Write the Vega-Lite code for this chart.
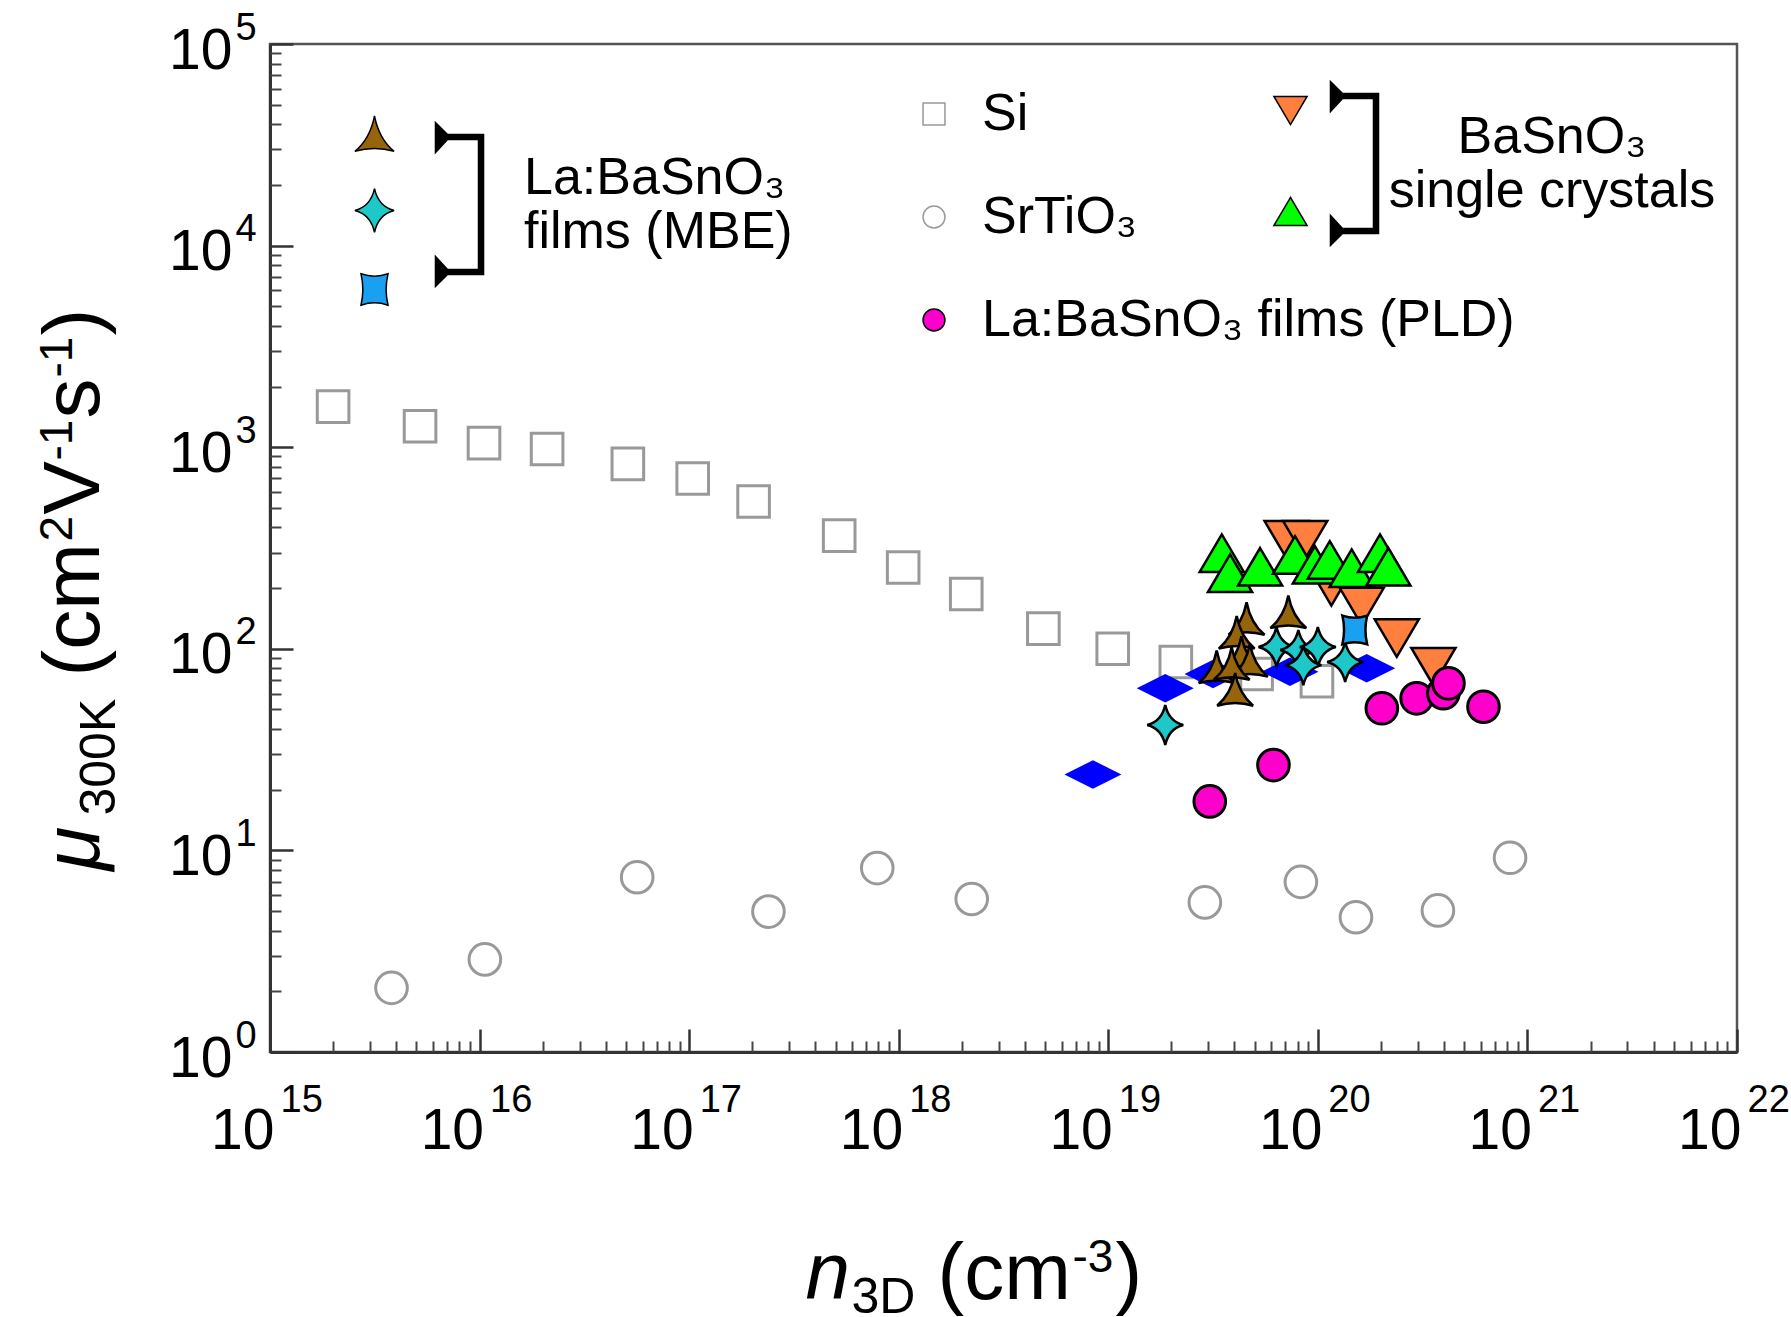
{
  "$schema": "https://vega.github.io/schema/vega-lite/v6.json",
  "width": 1467,
  "height": 1008,
  "autosize": {"type": "none"},
  "padding": {"left": 270, "top": 44, "right": 54, "bottom": 265},
  "background": "white",
  "config": {
    "view": {"stroke": "#555555", "strokeWidth": 2.5},
    "axis": {"grid": false, "labelFlush": false, "labelOverlap": false, "labelColor": "#000000", "titleColor": "#000000", "titleFont": "Liberation Sans", "titleFontWeight": "normal", "titleAlign": "left", "titleBaseline": "alphabetic", "labelFontWeight": "normal"},
    "legend": {"padding": 0, "labelLimit": 3000, "labelFont": "Liberation Sans", "labelColor": "#000000", "orient": "none", "direction": "vertical"}
  },
  "data": {"values": [
    {"series": "Si", "group": "main", "n": 2e15, "mu": 1590},
    {"series": "Si", "group": "main", "n": 5.2e15, "mu": 1270},
    {"series": "Si", "group": "main", "n": 1.05e16, "mu": 1047},
    {"series": "Si", "group": "main", "n": 2.1e16, "mu": 980},
    {"series": "Si", "group": "main", "n": 5.1e16, "mu": 827},
    {"series": "Si", "group": "main", "n": 1.04e17, "mu": 699},
    {"series": "Si", "group": "main", "n": 2.03e17, "mu": 538},
    {"series": "Si", "group": "main", "n": 5.2e17, "mu": 364},
    {"series": "Si", "group": "main", "n": 1.05e18, "mu": 253},
    {"series": "Si", "group": "main", "n": 2.1e18, "mu": 187},
    {"series": "Si", "group": "main", "n": 4.9e18, "mu": 126},
    {"series": "Si", "group": "main", "n": 1.05e19, "mu": 100},
    {"series": "Si", "group": "main", "n": 2.1e19, "mu": 86},
    {"series": "Si", "group": "main", "n": 5.1e19, "mu": 75},
    {"series": "Si", "group": "main", "n": 9.9e19, "mu": 69},
    {"series": "SrTiO₃", "group": "main", "n": 3.8e15, "mu": 2.08},
    {"series": "SrTiO₃", "group": "main", "n": 1.06e16, "mu": 2.88},
    {"series": "SrTiO₃", "group": "main", "n": 5.65e16, "mu": 7.36},
    {"series": "SrTiO₃", "group": "main", "n": 2.39e17, "mu": 4.97},
    {"series": "SrTiO₃", "group": "main", "n": 7.9e17, "mu": 8.17},
    {"series": "SrTiO₃", "group": "main", "n": 2.23e18, "mu": 5.74},
    {"series": "SrTiO₃", "group": "main", "n": 2.89e19, "mu": 5.52},
    {"series": "SrTiO₃", "group": "main", "n": 8.3e19, "mu": 6.98},
    {"series": "SrTiO₃", "group": "main", "n": 1.52e20, "mu": 4.66},
    {"series": "SrTiO₃", "group": "main", "n": 3.74e20, "mu": 5.04},
    {"series": "SrTiO₃", "group": "main", "n": 8.26e20, "mu": 9.19},
    {"series": "La:BaSnO₃ films (PLD)", "group": "main", "n": 3.05e19, "mu": 17.5},
    {"series": "La:BaSnO₃ films (PLD)", "group": "main", "n": 6.14e19, "mu": 26.5},
    {"series": "La:BaSnO₃ films (PLD)", "group": "main", "n": 2.02e20, "mu": 50.7},
    {"series": "La:BaSnO₃ films (PLD)", "group": "main", "n": 2.96e20, "mu": 56.8},
    {"series": "La:BaSnO₃ films (PLD)", "group": "main", "n": 3.97e20, "mu": 60.2},
    {"series": "La:BaSnO₃ films (PLD)", "group": "main", "n": 4.2e20, "mu": 67.4},
    {"series": "La:BaSnO₃ films (PLD)", "group": "main", "n": 6.17e20, "mu": 51.6},
    {"series": "Other La:BaSnO₃ films", "group": "other", "n": 8.45e18, "mu": 23.8},
    {"series": "Other La:BaSnO₃ films", "group": "other", "n": 1.87e19, "mu": 63.7},
    {"series": "Other La:BaSnO₃ films", "group": "other", "n": 3.16e19, "mu": 75},
    {"series": "Other La:BaSnO₃ films", "group": "other", "n": 7.36e19, "mu": 77},
    {"series": "Other La:BaSnO₃ films", "group": "other", "n": 1.71e20, "mu": 80},
    {"series": "BaSnO₃ crystals ▼", "group": "crystal", "n": 7.1e19, "mu": 347},
    {"series": "BaSnO₃ crystals ▼", "group": "crystal", "n": 8.7e19, "mu": 347},
    {"series": "BaSnO₃ crystals ▼", "group": "crystal", "n": 1.16e20, "mu": 203},
    {"series": "BaSnO₃ crystals ▼", "group": "crystal", "n": 1.62e20, "mu": 162},
    {"series": "BaSnO₃ crystals ▼", "group": "crystal", "n": 2.38e20, "mu": 113},
    {"series": "BaSnO₃ crystals ▼", "group": "crystal", "n": 3.56e20, "mu": 81.5},
    {"series": "BaSnO₃ crystals ▲", "group": "crystal", "n": 3.48e19, "mu": 298},
    {"series": "BaSnO₃ crystals ▲", "group": "crystal", "n": 3.81e19, "mu": 237},
    {"series": "BaSnO₃ crystals ▲", "group": "crystal", "n": 5.3e19, "mu": 255},
    {"series": "BaSnO₃ crystals ▲", "group": "crystal", "n": 7.78e19, "mu": 292},
    {"series": "BaSnO₃ crystals ▲", "group": "crystal", "n": 9.68e19, "mu": 261},
    {"series": "BaSnO₃ crystals ▲", "group": "crystal", "n": 1.14e20, "mu": 276},
    {"series": "BaSnO₃ crystals ▲", "group": "crystal", "n": 1.45e20, "mu": 251},
    {"series": "BaSnO₃ crystals ▲", "group": "crystal", "n": 1.98e20, "mu": 298},
    {"series": "BaSnO₃ crystals ▲", "group": "crystal", "n": 2.17e20, "mu": 255},
    {"series": "MBE A", "group": "MBE", "n": 7.23e19, "mu": 148},
    {"series": "MBE A", "group": "MBE", "n": 4.57e19, "mu": 137},
    {"series": "MBE A", "group": "MBE", "n": 4.1e19, "mu": 117},
    {"series": "MBE A", "group": "MBE", "n": 4.32e19, "mu": 93},
    {"series": "MBE A", "group": "MBE", "n": 4.74e19, "mu": 85},
    {"series": "MBE A", "group": "MBE", "n": 3.29e19, "mu": 79},
    {"series": "MBE A", "group": "MBE", "n": 3.88e19, "mu": 82},
    {"series": "MBE A", "group": "MBE", "n": 4.03e19, "mu": 61},
    {"series": "MBE B", "group": "MBE", "n": 1.87e19, "mu": 41.9},
    {"series": "MBE B", "group": "MBE", "n": 6.35e19, "mu": 102},
    {"series": "MBE B", "group": "MBE", "n": 8.07e19, "mu": 98.6},
    {"series": "MBE B", "group": "MBE", "n": 1.0e20, "mu": 102},
    {"series": "MBE B", "group": "MBE", "n": 8.53e19, "mu": 83},
    {"series": "MBE B", "group": "MBE", "n": 1.35e20, "mu": 86},
    {"series": "MBE C", "group": "MBE", "n": 1.5e20, "mu": 124}
  ]},
  "resolve": {
    "scale": {"shape": "independent", "fill": "independent", "stroke": "independent", "opacity": "independent"},
    "axis": {"x": "independent", "y": "independent"}
  },
  "layer": [
    {
      "transform": [{"filter": {"field": "group", "equal": "crystal"}}],
      "mark": {"type": "point", "filled": true, "opacity": 1, "stroke": "#000000", "strokeWidth": 2.5, "size": 1950},
      "encoding": {
        "x": {"field": "n", "type": "quantitative", "scale": {"type": "log", "domain": [1e15, 1e22], "nice": false}, "axis": null},
        "y": {"field": "mu", "type": "quantitative", "scale": {"type": "log", "domain": [1, 100000], "nice": false}, "axis": null},
        "shape": {"field": "series", "type": "nominal",
          "scale": {"domain": ["BaSnO₃ crystals ▼", "BaSnO₃ crystals ▲"], "range": ["M-1,-0.85L1,-0.85L0,0.85Z", "M0,-0.85L1,0.85L-1,0.85Z"]},
          "legend": {"title": null, "orient": "none", "legendX": 1003, "legendY": 49, "symbolSize": 1100, "labelExpr": "''", "labelFontSize": 1, "rowPadding": 66, "symbolFillColor": "#ff7f3f", "symbolStrokeColor": "#000000"}},
        "fill": {"field": "series", "type": "nominal",
          "scale": {"domain": ["BaSnO₃ crystals ▼", "BaSnO₃ crystals ▲"], "range": ["#ff7f3f", "#00ff00"]},
          "legend": {"title": null, "orient": "none", "legendX": 1003, "legendY": 49, "symbolSize": 1100, "labelExpr": "''", "labelFontSize": 1, "rowPadding": 66, "symbolFillColor": "#ff7f3f", "symbolStrokeColor": "#000000"}},
        "opacity": {"field": "group", "type": "nominal", "scale": {"range": [1, 1]},
          "legend": {"title": null, "orient": "none", "legendX": 993.5, "legendY": 1.5, "symbolType": "M-0.267,-0.611L-0.133,-0.478L0.267,-0.478L0.267,1.078L-0.133,1.078L-0.267,1.211L-0.267,0.878L-0.133,1.022L0.211,1.022L0.211,-0.422L-0.133,-0.422L-0.267,-0.278Z", "symbolSize": 32400, "symbolFillColor": "#000000", "symbolStrokeColor": "#000000", "labelExpr": "['BaSnO₃', 'single crystals']", "labelFontSize": 52, "labelAlign": "center", "labelOffset": 106.5}}
      }
    },
    {
      "transform": [{"filter": {"field": "group", "equal": "main"}}],
      "mark": {"type": "point", "filled": true, "opacity": 1, "strokeWidth": 3, "size": 1000},
      "encoding": {
        "x": {"field": "n", "type": "quantitative", "scale": {"type": "log", "domain": [1e15, 1e22], "nice": false}, "axis": null},
        "y": {"field": "mu", "type": "quantitative", "scale": {"type": "log", "domain": [1, 100000], "nice": false}, "axis": null},
        "shape": {"field": "series", "type": "nominal",
          "scale": {"domain": ["Si", "SrTiO₃", "La:BaSnO₃ films (PLD)"], "range": ["square", "circle", "circle"]},
          "legend": {"title": null, "orient": "none", "legendX": 638, "legendY": 44, "symbolSize": 480, "labelFontSize": 52, "labelOffset": 22, "rowPadding": 51, "symbolFillColor": "#ffffff", "symbolStrokeColor": "#999999"}},
        "fill": {"field": "series", "type": "nominal",
          "scale": {"domain": ["Si", "SrTiO₃", "La:BaSnO₃ films (PLD)"], "range": ["transparent", "transparent", "#ff00cc"]},
          "legend": {"title": null, "orient": "none", "legendX": 638, "legendY": 44, "symbolSize": 480, "labelFontSize": 52, "labelOffset": 22, "rowPadding": 51, "symbolFillColor": "#ffffff", "symbolStrokeColor": "#999999"}},
        "stroke": {"field": "series", "type": "nominal",
          "scale": {"domain": ["Si", "SrTiO₃", "La:BaSnO₃ films (PLD)"], "range": ["#999999", "#999999", "#000000"]},
          "legend": {"title": null, "orient": "none", "legendX": 638, "legendY": 44, "symbolSize": 480, "labelFontSize": 52, "labelOffset": 22, "rowPadding": 51, "symbolFillColor": "#ffffff", "symbolStrokeColor": "#999999"}}
      }
    },
    {
      "transform": [{"filter": {"field": "group", "equal": "other"}}],
      "mark": {"type": "point", "filled": true, "opacity": 1, "fill": "#0000ff", "strokeWidth": 0, "size": 3249, "shape": "M-1,0L0,-0.5L1,0L0,0.5Z"},
      "encoding": {
        "x": {"field": "n", "type": "quantitative", "scale": {"type": "log", "domain": [1e15, 1e22], "nice": false}, "axis": null},
        "y": {"field": "mu", "type": "quantitative", "scale": {"type": "log", "domain": [1, 100000], "nice": false}, "axis": null}
      }
    },
    {
      "transform": [{"filter": {"field": "group", "equal": "MBE"}}],
      "mark": {"type": "point", "filled": true, "opacity": 1, "stroke": "#000000", "strokeWidth": 2.5, "size": 1600},
      "encoding": {
        "x": {"field": "n", "type": "quantitative", "scale": {"type": "log", "domain": [1e15, 1e22], "nice": false}, "axis": null},
        "y": {"field": "mu", "type": "quantitative", "scale": {"type": "log", "domain": [1, 100000], "nice": false}, "axis": null},
        "shape": {"field": "series", "type": "nominal",
          "scale": {"domain": ["MBE A", "MBE B", "MBE C"], "range": ["M0,-0.95Q0.2,0.1 0.9,0.68Q0,0.42 -0.9,0.68Q-0.2,0.1 0,-0.95Z", "M0,-1Q0.18,-0.18 0.9,0Q0.18,0.18 0,1Q-0.18,0.18 -0.9,0Q-0.18,-0.18 0,-1Z", "M-0.62,-0.72Q0,-0.5 0.62,-0.72Q0.45,0 0.62,0.72Q0,0.5 -0.62,0.72Q-0.45,0 -0.62,-0.72Z"]},
          "legend": {"title": null, "orient": "none", "legendX": 81.5, "legendY": 69.5, "symbolSize": 1900, "labelExpr": "''", "labelFontSize": 1, "rowPadding": 31, "symbolFillColor": "#96640a", "symbolStrokeColor": "#000000"}},
        "fill": {"field": "series", "type": "nominal",
          "scale": {"domain": ["MBE A", "MBE B", "MBE C"], "range": ["#96640a", "#1ec8c8", "#1aa0f0"]},
          "legend": {"title": null, "orient": "none", "legendX": 81.5, "legendY": 69.5, "symbolSize": 1900, "labelExpr": "''", "labelFontSize": 1, "rowPadding": 31, "symbolFillColor": "#96640a", "symbolStrokeColor": "#000000"}},
        "opacity": {"field": "group", "type": "nominal", "scale": {"range": [1, 1]},
          "legend": {"title": null, "orient": "none", "legendX": 98.5, "legendY": 42.5, "symbolType": "M-0.267,-0.611L-0.133,-0.478L0.267,-0.478L0.267,1.078L-0.133,1.078L-0.267,1.211L-0.267,0.878L-0.133,1.022L0.211,1.022L0.211,-0.422L-0.133,-0.422L-0.267,-0.278Z", "symbolSize": 32400, "symbolFillColor": "#000000", "symbolStrokeColor": "#000000", "labelExpr": "['La:BaSnO₃', 'films (MBE)']", "labelFontSize": 52, "labelAlign": "left", "labelOffset": -26.5}}
      }
    },
    {
      "mark": {"type": "point", "opacity": 0},
      "encoding": {
        "x": {"field": "n", "type": "quantitative", "scale": {"type": "log", "domain": [1e15, 1e22], "nice": false},
          "axis": {"orient": "bottom", "values": [1e15, 1e16, 1e17, 1e18, 1e19, 1e20, 1e21, 1e22], "labelExpr": "'10'", "ticks": false, "tickSize": 0, "domain": false, "labelFont": "Liberation Sans", "labelFontSize": 57, "labelAlign": "right", "labelBaseline": "alphabetic", "labelOffset": 4, "labelPadding": 96,
            "title": "n", "titleFontSize": 80, "titleFontStyle": "italic", "titleX": 535, "titleY": 246}},
        "y": {"field": "mu", "type": "quantitative", "scale": {"type": "log", "domain": [1, 100000], "nice": false},
          "axis": {"orient": "left", "values": [1, 10, 100, 1000, 10000, 100000], "labelExpr": "'10'", "ticks": false, "tickSize": 0, "domain": false, "labelFont": "Liberation Sans", "labelFontSize": 57, "labelAlign": "right", "labelBaseline": "alphabetic", "labelOffset": 24, "labelPadding": 38,
            "title": "μ", "titleFontSize": 80, "titleFontStyle": "italic", "titleAngle": 270, "titleX": -172, "titleY": 826}}
      }
    },
    {
      "mark": {"type": "point", "opacity": 0},
      "encoding": {
        "x": {"field": "n", "type": "quantitative", "scale": {"type": "log", "domain": [1e15, 1e22], "nice": false},
          "axis": {"orient": "bottom", "values": [1e15, 1e16, 1e17, 1e18, 1e19, 1e20, 1e21, 1e22], "labelExpr": "'' + round(log(datum.value) / LN10)", "ticks": false, "tickSize": 0, "domain": false, "labelFont": "Liberation Sans", "labelFontSize": 38, "labelAlign": "left", "labelBaseline": "alphabetic", "labelOffset": 10, "labelPadding": 59,
            "title": "3D", "titleFontSize": 50, "titleX": 581, "titleY": 260}},
        "y": {"field": "mu", "type": "quantitative", "scale": {"type": "log", "domain": [1, 100000], "nice": false},
          "axis": {"orient": "left", "values": [1, 10, 100, 1000, 10000, 100000], "labelExpr": "'' + round(log(datum.value) / LN10)", "ticks": false, "tickSize": 0, "domain": false, "labelFont": "Liberation Sans", "labelFontSize": 38, "labelAlign": "left", "labelBaseline": "alphabetic", "labelOffset": -5, "labelPadding": 35,
            "title": "300K", "titleFontSize": 50, "titleAngle": 270, "titleX": -156, "titleY": 771}}
      }
    },
    {
      "mark": {"type": "point", "opacity": 0},
      "encoding": {
        "x": {"field": "n", "type": "quantitative", "scale": {"type": "log", "domain": [1e15, 1e22], "nice": false},
          "axis": {"orient": "bottom", "values": [1e15, 1e16, 1e17, 1e18, 1e19, 1e20, 1e21, 1e22], "labels": false, "ticks": true, "tickSize": -23, "tickWidth": 2.5, "tickColor": "#333333", "domain": true, "domainColor": "#333333", "domainWidth": 3,
            "title": "(cm", "titleFontSize": 80, "titleX": 667, "titleY": 246}},
        "y": {"field": "mu", "type": "quantitative", "scale": {"type": "log", "domain": [1, 100000], "nice": false},
          "axis": {"orient": "left", "values": [1, 10, 100, 1000, 10000, 100000], "labels": false, "ticks": true, "tickSize": -23, "tickWidth": 2.5, "tickColor": "#333333", "domain": true, "domainColor": "#333333", "domainWidth": 3,
            "title": "(cm", "titleFontSize": 80, "titleAngle": 270, "titleX": -172, "titleY": 632}}
      }
    },
    {
      "mark": {"type": "point", "opacity": 0},
      "encoding": {
        "x": {"field": "n", "type": "quantitative", "scale": {"type": "log", "domain": [1e15, 1e22], "nice": false},
          "axis": {"orient": "bottom", "values": [2e15, 3e15, 4e15, 5e15, 6e15, 7e15, 8e15, 9e15, 2e16, 3e16, 4e16, 5e16, 6e16, 7e16, 8e16, 9e16, 2e17, 3e17, 4e17, 5e17, 6e17, 7e17, 8e17, 9e17, 2e18, 3e18, 4e18, 5e18, 6e18, 7e18, 8e18, 9e18, 2e19, 3e19, 4e19, 5e19, 6e19, 7e19, 8e19, 9e19, 2e20, 3e20, 4e20, 5e20, 6e20, 7e20, 8e20, 9e20, 2e21, 3e21, 4e21, 5e21, 6e21, 7e21, 8e21, 9e21], "labels": false, "ticks": true, "tickSize": -11, "tickWidth": 2, "tickColor": "#444444", "domain": false,
            "title": "-3", "titleFontSize": 46, "titleX": 802, "titleY": 219}},
        "y": {"field": "mu", "type": "quantitative", "scale": {"type": "log", "domain": [1, 100000], "nice": false},
          "axis": {"orient": "left", "values": [2, 3, 4, 5, 6, 7, 8, 9, 20, 30, 40, 50, 60, 70, 80, 90, 200, 300, 400, 500, 600, 700, 800, 900, 2000, 3000, 4000, 5000, 6000, 7000, 8000, 9000, 20000, 30000, 40000, 50000, 60000, 70000, 80000, 90000], "labels": false, "ticks": true, "tickSize": -11, "tickWidth": 2, "tickColor": "#444444", "domain": false,
            "title": "2", "titleFontSize": 46, "titleAngle": 270, "titleX": -199, "titleY": 497}}
      }
    },
    {
      "mark": {"type": "point", "opacity": 0},
      "encoding": {
        "x": {"field": "n", "type": "quantitative", "scale": {"type": "log", "domain": [1e15, 1e22], "nice": false},
          "axis": {"orient": "bottom", "labels": false, "ticks": false, "domain": false, "title": ")", "titleFontSize": 80, "titleX": 845, "titleY": 246}},
        "y": {"field": "mu", "type": "quantitative", "scale": {"type": "log", "domain": [1, 100000], "nice": false},
          "axis": {"orient": "left", "labels": false, "ticks": false, "domain": false, "title": "V", "titleFontSize": 80, "titleAngle": 270, "titleX": -172, "titleY": 470}}
      }
    },
    {
      "mark": {"type": "point", "opacity": 0},
      "encoding": {
        "x": {"field": "n", "type": "quantitative", "scale": {"type": "log", "domain": [1e15, 1e22], "nice": false}, "axis": null},
        "y": {"field": "mu", "type": "quantitative", "scale": {"type": "log", "domain": [1, 100000], "nice": false},
          "axis": {"orient": "left", "labels": false, "ticks": false, "domain": false, "title": "-1", "titleFontSize": 46, "titleAngle": 270, "titleX": -199, "titleY": 416}}
      }
    },
    {
      "mark": {"type": "point", "opacity": 0},
      "encoding": {
        "x": {"field": "n", "type": "quantitative", "scale": {"type": "log", "domain": [1e15, 1e22], "nice": false}, "axis": null},
        "y": {"field": "mu", "type": "quantitative", "scale": {"type": "log", "domain": [1, 100000], "nice": false},
          "axis": {"orient": "left", "labels": false, "ticks": false, "domain": false, "title": "s", "titleFontSize": 80, "titleAngle": 270, "titleX": -172, "titleY": 374}}
      }
    },
    {
      "mark": {"type": "point", "opacity": 0},
      "encoding": {
        "x": {"field": "n", "type": "quantitative", "scale": {"type": "log", "domain": [1e15, 1e22], "nice": false}, "axis": null},
        "y": {"field": "mu", "type": "quantitative", "scale": {"type": "log", "domain": [1, 100000], "nice": false},
          "axis": {"orient": "left", "labels": false, "ticks": false, "domain": false, "title": "-1", "titleFontSize": 46, "titleAngle": 270, "titleX": -199, "titleY": 333}}
      }
    },
    {
      "mark": {"type": "point", "opacity": 0},
      "encoding": {
        "x": {"field": "n", "type": "quantitative", "scale": {"type": "log", "domain": [1e15, 1e22], "nice": false}, "axis": null},
        "y": {"field": "mu", "type": "quantitative", "scale": {"type": "log", "domain": [1, 100000], "nice": false},
          "axis": {"orient": "left", "labels": false, "ticks": false, "domain": false, "title": ")", "titleFontSize": 80, "titleAngle": 270, "titleX": -172, "titleY": 291}}
      }
    }
  ]
}
